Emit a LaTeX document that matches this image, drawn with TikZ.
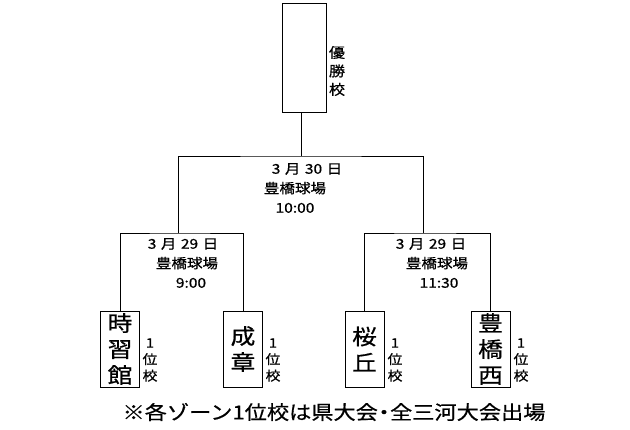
\documentclass[tikz,border=0pt]{standalone}
\usepackage{fontspec}
\setmainfont{Noto Sans CJK JP}[FakeBold=0.6, FakeStretch=1.15]
\usepackage{tikz}

\begin{document}
\begin{tikzpicture}[x=1pt,y=-1pt,
  bracket/.style={line width=0.9pt},
  teambox/.style={draw, line width=0.9pt, minimum width=39pt, minimum height=76pt,
    inner sep=0pt, align=center, font=\fontsize{21.5}{26}\selectfont},
  rank/.style={align=center, inner sep=0pt, font=\fontsize{13}{16.5}\selectfont},
  info/.style={align=center, inner sep=0pt, font=\fontsize{13.5}{19.5}\selectfont}]
\useasboundingbox (0,0) rectangle (630,430);

\node[draw, line width=0.9pt, minimum width=44pt, minimum height=109pt, inner sep=0pt] (win) at (304,57.5) {};
\node[info, font=\fontsize{14}{18.5}\selectfont] (winlab) at (337,71) {優\\勝\\校};

\node[teambox] (t1) at (120,349) {時\\習\\館};
\node[teambox] (t2) at (243,349) {成\\章};
\node[teambox] (t3) at (364.5,349) {桜\\丘};
\node[teambox] (t4) at (490.5,349) {豊\\橋\\西};

\node[rank] (r1) at (150,360) {1\\位\\校};
\node[rank] (r2) at (273,360) {1\\位\\校};
\node[rank] (r3) at (395,360) {1\\位\\校};
\node[rank] (r4) at (521,360) {1\\位\\校};

\coordinate (fin) at (301,156);
\coordinate (sf1) at (178,233);
\coordinate (sf2) at (423,233);

\draw[bracket] (t1.north) |- (sf1) -| (t2.north);
\draw[bracket] (t3.north) |- (sf2) -| (t4.north);
\draw[bracket] (sf1) |- (fin) -| (sf2);
\draw[bracket] (fin) -- (fin |- win.south);

\newcommand\gap{\hspace{4.5pt}}
\node[info] (day2) at (295,188) {\hspace*{24pt}3\gap 月\gap 30\gap 日\\豊橋球場\\10:00};
\node[info] (day1a) at (187,263) {\hspace*{-8pt}3\gap 月\gap 29\gap 日\\豊橋球場\\\hspace*{8pt}9:00};
\node[info] (day1b) at (437,263) {\hspace*{-12pt}3\gap 月\gap 29\gap 日\\豊橋球場\\\hspace*{4pt}11:30};

\node[font=\fontsize{19.3}{22}\selectfont, inner sep=0pt] (note) at (334,412) {※各ゾーン1位校は県大会{\hspace{-5pt}}・{\hspace{-5pt}}全三河大会出場};
\end{tikzpicture}
\end{document}
